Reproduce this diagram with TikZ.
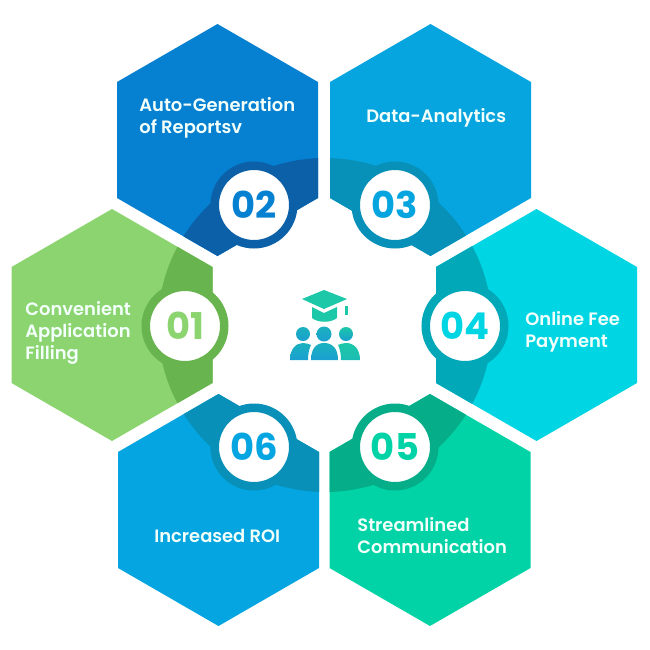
\documentclass[tikz,border=0pt]{standalone}
\usepackage{xcolor}
\usepackage{fontspec}
\setmainfont{Poppins}[BoldFont={Poppins SemiBold}]
\newfontfamily\numfont{Poppins}[UprightFont={* Bold}]
\usetikzlibrary{positioning}
\definecolor{applight}{HTML}{8BD46F}
\definecolor{appdark}{HTML}{68B44E}
\definecolor{replight}{HTML}{0680D0}
\definecolor{repdark}{HTML}{0B60A8}
\definecolor{datalight}{HTML}{06A5DF}
\definecolor{datadark}{HTML}{0891B8}
\definecolor{feelight}{HTML}{00D5E4}
\definecolor{feedark}{HTML}{00A8B8}
\definecolor{commlight}{HTML}{02D3A6}
\definecolor{commdark}{HTML}{05AE89}
\definecolor{roilight}{HTML}{04A5E0}
\definecolor{roidark}{HTML}{0890B8}
\definecolor{icongreen}{HTML}{1CC8A8}
\definecolor{iconblue}{HTML}{1A9FD0}
\definecolor{labelwhite}{HTML}{F2FFFA}

\begin{document}
\begin{tikzpicture}[
  x=0.02cm, y=-0.02cm,
  every node/.style={font=\fontsize{10.2}{12.5}\selectfont\bfseries},
  hexlabel/.style={text=labelwhite, align=left, anchor=west, inner sep=0pt},
  numcircle/.style={circle, fill=white, line width=8.5*0.02cm, minimum size=78.5*0.02cm,
    inner sep=0pt, font=\fontsize{21}{21}\numfont},
  iconpart/.style={top color=icongreen, bottom color=iconblue, draw=none}
]
\useasboundingbox (0,0) rectangle (650,650);
\fill[white] (0,0) rectangle (650,650);

% hexagons with the darker inner ring part
\foreach \cx/\cy/\lightcol/\darkcol in {112/325/applight/appdark, 217.5/140/replight/repdark,
    430.5/140/datalight/datadark, 536.5/325/feelight/feedark,
    430/510/commlight/commdark, 218.5/510/roilight/roidark} {
  \fill[\lightcol] (\cx,\cy-116) -- ++(100.5,58) -- ++(0,116) -- ++(-100.5,58)
    -- ++(-100.5,-58) -- ++(0,-116) -- cycle;
  \begin{scope}
    \clip (\cx,\cy-116) -- ++(100.5,58) -- ++(0,116) -- ++(-100.5,58)
      -- ++(-100.5,-58) -- ++(0,-116) -- cycle;
    \fill[\darkcol] (325,325) circle (167);
  \end{scope}
}

\node[numcircle, draw=appdark, text=applight]   (num01) at (185,326) {01};
\node[numcircle, draw=repdark, text=replight]   (num02) at (254,205) {02};
\node[numcircle, draw=datadark, text=datalight] (num03) at (395,205) {03};
\node[numcircle, draw=feedark, text=feelight]   (num04) at (465,326) {04};
\node[numcircle, draw=commdark, text=commlight] (num05) at (395,447) {05};
\node[numcircle, draw=roidark, text=roilight]   (num06) at (254,447) {06};

\node[hexlabel] (lab01) at (25,333)  {Convenient\\Application\\Filling};
\node[hexlabel] (lab02) at (139,118) {Auto-Generation\\of Reportsv};
\node[hexlabel] (lab03) at (366,118) {Data-Analytics};
\node[hexlabel] (lab04) at (525,332) {Online Fee\\Payment};
\node[hexlabel] (lab05) at (357,536) {Streamlined\\Communication};
\node[hexlabel] (lab06) at (154,536) {Increased ROI};

% centre icon
\fill[icongreen] (324,290) -- (347,299) -- (324,309) -- (302,299) -- cycle;
\fill[icongreen] (312,307) -- (324,313) -- (337,307) -- (337,318)
  .. controls (331,323) and (318,323) .. (312,318) -- cycle;
\fill[icongreen] (345,306) rectangle (348,315);
\shade[iconpart, top color=icongreen!45!iconblue] (303,334) circle (7);
\shade[iconpart, top color=icongreen!45!iconblue] (324,334) circle (7.5);
\shade[iconpart] (346,334) circle (7);
\shade[iconpart, top color=icongreen!45!iconblue] (290,360)
  .. controls (290,349) and (296,343) .. (303,343)
  .. controls (306,343) and (309,344) .. (311,345)
  .. controls (309,349) and (308,354) .. (308,360) -- cycle;
\shade[iconpart, top color=icongreen!45!iconblue] (311,360)
  .. controls (311,349) and (316,343) .. (324,343)
  .. controls (333,343) and (338,349) .. (338,360) -- cycle;
\shade[iconpart, bottom color=icongreen!70!iconblue] (360,360)
  .. controls (360,349) and (354,343) .. (346,343)
  .. controls (343,343) and (340,344) .. (338,345)
  .. controls (340,349) and (341,354) .. (341,360) -- cycle;
\end{tikzpicture}
\end{document}
